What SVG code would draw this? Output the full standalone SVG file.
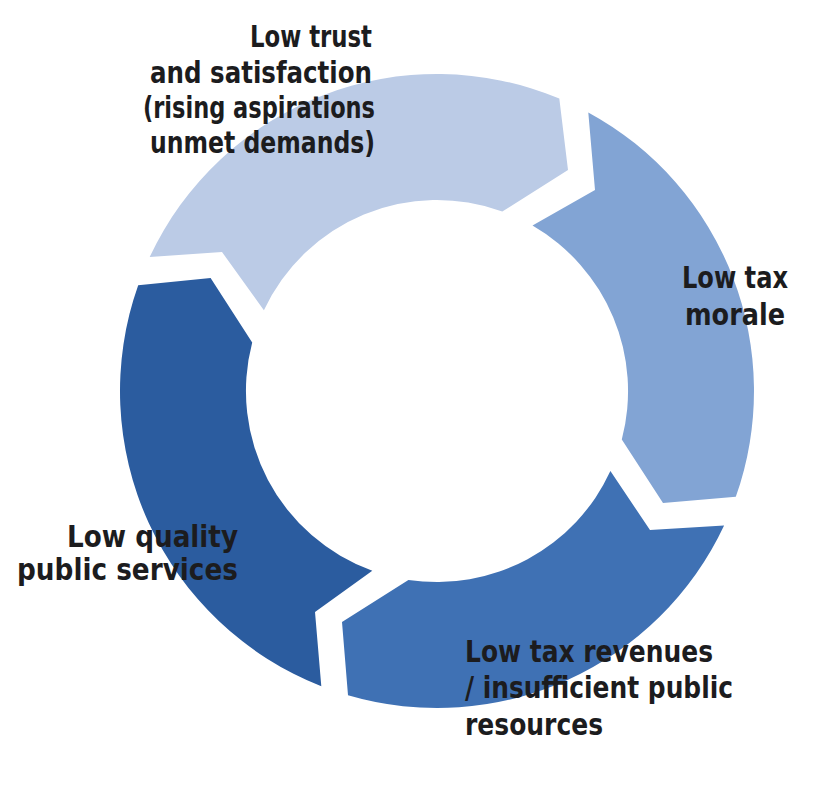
<svg xmlns="http://www.w3.org/2000/svg" width="825" height="805" viewBox="0 0 825 805">
  <style>
    .lbl { font-family: "Liberation Sans Narrow", "DejaVu Sans Condensed", "Liberation Sans", Arial, sans-serif; font-weight: bold; font-size: 31px; fill: #1c1c1e; }
    .light { fill: #BBCBE6; }
    .medium { fill: #82A4D4; }
    .blue { fill: #3F71B4; }
    .dark { fill: #2B5C9F; }
  </style>
  <rect x="0" y="0" width="825" height="805" fill="#ffffff"/>
  <g id="node-trust">
    <path class="light" d="M 149.7,257.0 A 317 317 0 0 1 559.3,98.6 L 568,170 L 502.3,211.5 A 191 191 0 0 0 263.9,310.3 L 222,252 Z"/>
    <text class="lbl" x="250" y="47" textLength="122" lengthAdjust="spacingAndGlyphs">Low trust</text>
    <text class="lbl" x="150" y="83" textLength="222" lengthAdjust="spacingAndGlyphs">and satisfaction</text>
    <text class="lbl" x="143" y="118" textLength="232" lengthAdjust="spacingAndGlyphs">(rising aspirations</text>
    <text class="lbl" x="150" y="153" textLength="225" lengthAdjust="spacingAndGlyphs">unmet demands)</text>
  </g>
  <g id="node-morale">
    <path class="medium" d="M 588.3,112.4 A 317 317 0 0 1 735.8,496.8 L 663,503 L 621.8,439.5 A 191 191 0 0 0 532.5,225.6 L 595,190 Z"/>
    <text class="lbl" x="682" y="288" textLength="106" lengthAdjust="spacingAndGlyphs">Low tax</text>
    <text class="lbl" x="685" y="325" textLength="100" lengthAdjust="spacingAndGlyphs">morale</text>
  </g>
  <g id="node-revenues">
    <path class="blue" d="M 724.1,525.5 A 317 317 0 0 1 348.0,695.3 L 342,622 L 408.4,579.9 A 191 191 0 0 0 610.4,471.1 L 650,530 Z"/>
    <text class="lbl" x="465" y="662" textLength="248" lengthAdjust="spacingAndGlyphs">Low tax revenues</text>
    <text class="lbl" x="465" y="698" textLength="268" lengthAdjust="spacingAndGlyphs">/ insufficient public</text>
    <text class="lbl" x="465" y="735" textLength="138" lengthAdjust="spacingAndGlyphs">resources</text>
  </g>
  <g id="node-services">
    <path class="dark" d="M 321.3,686.2 A 317 317 0 0 1 138.2,285.2 L 210.6,278.1 L 252.2,342.5 A 191 191 0 0 0 372.3,570.7 L 315,612 Z"/>
    <text class="lbl" x="67" y="547" textLength="171" lengthAdjust="spacingAndGlyphs">Low quality</text>
    <text class="lbl" x="17" y="580" textLength="221" lengthAdjust="spacingAndGlyphs">public services</text>
  </g>
  <g id="connectors"/>
</svg>
